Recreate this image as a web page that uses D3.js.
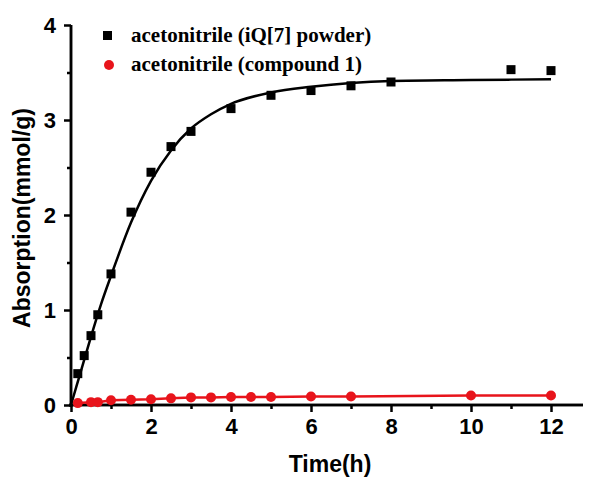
<!DOCTYPE html>
<html>
<head>
<meta charset="utf-8">
<script src="https://cdn.jsdelivr.net/npm/d3@7"></script>
<style>
  body { margin: 0; background: #fff; }
</style>
</head>
<body>
<div id="chart"></div>
<script>
// iQ[7] powder measured points
const iqTime = [0.17, 0.33, 0.5, 0.67, 1, 1.5, 2, 2.5, 3, 4, 5, 6, 7, 8, 11, 12];
const iqAbs = [0.33, 0.52, 0.73, 0.95, 1.38, 2.03, 2.45, 2.72, 2.88, 3.12, 3.26, 3.31, 3.36, 3.40, 3.53, 3.52];

// fitted curve for iQ[7]
const fitTime = [0, 0.25, 0.5, 0.75, 1, 1.5, 2, 2.5, 3, 3.5, 4, 5, 6, 7, 8, 10, 12];
const fitAbs = [0, 0.36, 0.72, 1.06, 1.36, 1.92, 2.36, 2.68, 2.91, 3.06, 3.17, 3.29, 3.35, 3.39, 3.41, 3.42, 3.43];

// compound 1
const cpTime = [0.17, 0.5, 0.67, 1, 1.5, 2, 2.5, 3, 3.5, 4, 4.5, 5, 6, 7, 10, 12];
const cpAbs = [0.02, 0.03, 0.03, 0.05, 0.055, 0.06, 0.07, 0.08, 0.08, 0.085, 0.085, 0.085, 0.09, 0.09, 0.10, 0.10];

const xTicks = [0, 2, 4, 6, 8, 10, 12];
const xMinor = [1, 3, 5, 7, 9, 11];
const yTicks = [0, 1, 2, 3, 4];
const yMinor = [0.5, 1.5, 2.5, 3.5];

const legendLabels = ["acetonitrile (iQ[7] powder)", "acetonitrile (compound 1)"];

const width = 590, height = 483;
const svg = d3.select("#chart").append("svg")
  .attr("width", width).attr("height", height);

const x = d3.scaleLinear().domain([0, 12.8]).range([71, 583]);
const y = d3.scaleLinear().domain([0, 4]).range([405, 25]);

const sans = "Arial, 'Liberation Sans', sans-serif";

// x axis
const xAxis = svg.append("g").attr("transform", `translate(0,${y(0)})`);
xAxis.call(d3.axisBottom(x).tickValues(xTicks).tickSize(7).tickPadding(6).tickFormat(d3.format("d")));
xAxis.append("g").call(d3.axisBottom(x).tickValues(xMinor).tickSize(4).tickFormat(""));
xAxis.selectAll(".domain").attr("d", `M${x(0) - 2},0H${x(12.8)}`);

// y axis
const yAxis = svg.append("g").attr("transform", `translate(${x(0)},0)`);
yAxis.call(d3.axisLeft(y).tickValues(yTicks).tickSize(7).tickPadding(8).tickFormat(d3.format("d")));
yAxis.append("g").call(d3.axisLeft(y).tickValues(yMinor).tickSize(4).tickFormat(""));
yAxis.selectAll(".domain").attr("d", `M0,${y(4)}V${y(0) + 2}`);

svg.selectAll(".domain, .tick line")
  .attr("stroke", "#000").attr("stroke-width", 2.5);
svg.selectAll(".tick text")
  .attr("font-family", sans).attr("font-weight", "bold")
  .attr("font-size", 22).attr("fill", "#000");

// axis titles
svg.append("text")
  .attr("x", 330).attr("y", 472)
  .attr("text-anchor", "middle")
  .attr("font-family", sans).attr("font-weight", "bold").attr("font-size", 23)
  .text("Time(h)");
svg.append("text")
  .attr("transform", `translate(30,${y(2) + 3}) rotate(-90)`)
  .attr("text-anchor", "middle")
  .attr("font-family", sans).attr("font-weight", "bold").attr("font-size", 23)
  .text("Absorption(mmol/g)");

// fit line
const line = d3.line().x(d => x(d[0])).y(d => y(d[1])).curve(d3.curveMonotoneX);
svg.append("path")
  .datum(d3.zip(fitTime, fitAbs))
  .attr("fill", "none").attr("stroke", "#000").attr("stroke-width", 2.5)
  .attr("d", line);

// compound 1 line + points
svg.append("path")
  .datum(d3.zip(cpTime, cpAbs))
  .attr("fill", "none").attr("stroke", "#e8141b").attr("stroke-width", 2.5)
  .attr("d", d3.line().x(d => x(d[0])).y(d => y(d[1])));
svg.append("g").selectAll("circle")
  .data(d3.zip(cpTime, cpAbs))
  .join("circle")
  .attr("cx", d => x(d[0])).attr("cy", d => y(d[1]))
  .attr("r", 5).attr("fill", "#e8141b");

// iQ[7] squares
const sq = 9;
svg.append("g").selectAll("rect")
  .data(d3.zip(iqTime, iqAbs))
  .join("rect")
  .attr("x", d => x(d[0]) - sq / 2).attr("y", d => y(d[1]) - sq / 2)
  .attr("width", sq).attr("height", sq).attr("fill", "#000");

// legend
const lg = svg.append("g").attr("font-family", "'Liberation Serif', 'Times New Roman', serif")
  .attr("font-weight", "bold").attr("font-size", 21);
lg.append("rect").attr("x", 103).attr("y", 31).attr("width", 9).attr("height", 9).attr("fill", "#000");
lg.append("text").attr("x", 131).attr("y", 42).text(legendLabels[0]);
lg.append("circle").attr("cx", 109).attr("cy", 65).attr("r", 5).attr("fill", "#e8141b");
lg.append("text").attr("x", 131).attr("y", 71).text(legendLabels[1]);
</script>
</body>
</html>
